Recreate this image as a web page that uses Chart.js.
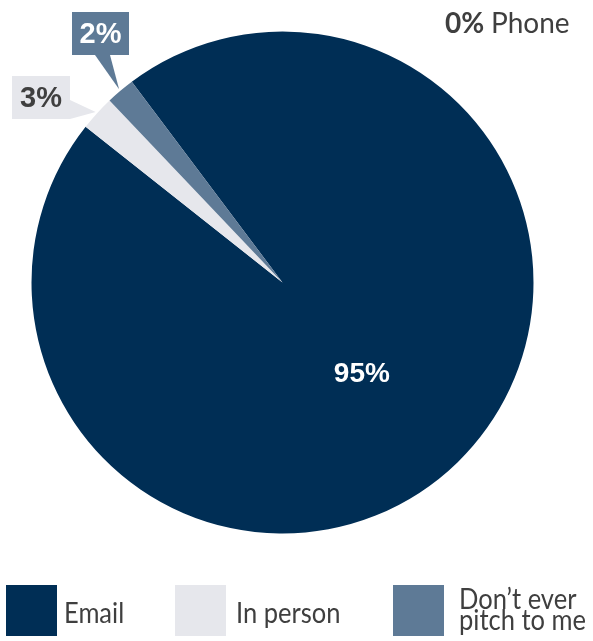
<!DOCTYPE html>
<html>
<head>
<meta charset="utf-8">
<script src="https://cdn.jsdelivr.net/npm/chart.js@4.4.0/dist/chart.umd.min.js"></script>
<style>
  html, body { margin: 0; padding: 0; background: #fff; }
  #pitchPie { display: block; }
</style>
</head>
<body>
<canvas id="pitchPie" width="593" height="641"></canvas>
<script>
// how do you prefer to be pitched?
const categories = ['Email', 'In person', "Don\u2019t ever\npitch to me", 'Phone'];
const shares = [95.9, 2.25, 1.85, 0];
const shareLabels = ['95%', '3%', '2%', '0%'];
const colours = ['#002e55', '#e6e7ec', '#5e7a96', '#9aa9b8'];

const textGrey = '#3f3f3f';

// labels, callouts and legend drawn straight on the canvas
const pieText = {
    id: 'pieText',
    afterDraw(chart) {
        const ctx = chart.ctx;
        const arcs = chart.getDatasetMeta(0).data;
        ctx.save();
        ctx.textBaseline = 'middle';
        ctx.textAlign = 'center';

        // big slice label
        const big = arcs[0];
        ctx.fillStyle = '#ffffff';
        ctx.font = 'bold 28px "Liberation Sans", Arial, sans-serif';
        const mid = (big.startAngle + big.endAngle) / 2;
        const r = big.outerRadius * 0.47;
        ctx.fillText(shareLabels[0], big.x + Math.cos(mid) * r - 3, big.y + Math.sin(mid) * r + 7);

        // callout for a small slice: box + pointer to the rim
        function callout(i, box, base, txtColour) {
            const a = arcs[i];
            const m = (a.startAngle + a.endAngle) / 2;
            const tipX = a.x + Math.cos(m) * (a.outerRadius + 2);
            const tipY = a.y + Math.sin(m) * (a.outerRadius + 2);
            ctx.fillStyle = colours[i];
            ctx.fillRect(box[0], box[1], box[2], box[3]);
            ctx.beginPath();
            ctx.moveTo(base[0], base[1]);
            ctx.lineTo(base[2], base[3]);
            ctx.lineTo(tipX, tipY);
            ctx.closePath();
            ctx.fill();
            ctx.fillStyle = txtColour;
            ctx.font = 'bold 29px "Liberation Sans", Arial, sans-serif';
            ctx.fillText(shareLabels[i], box[0] + box[2] / 2, box[1] + box[3] / 2 + 1);
        }
        callout(1, [12, 76, 58, 43], [70, 100, 70, 119], textGrey);
        callout(2, [72, 12, 57, 43], [95, 55, 110, 55], '#ffffff');

        // the empty phone slice
        ctx.textAlign = 'left';
        ctx.textBaseline = 'alphabetic';
        ctx.fillStyle = textGrey;
        ctx.font = 'bold 28px Lato, sans-serif';
        ctx.fillText(shareLabels[3], 445, 33);
        const w0 = ctx.measureText(shareLabels[3] + ' ').width;
        ctx.font = '28px Lato, sans-serif';
        ctx.fillText(categories[3], 445 + w0, 33);

        // legend
        const items = [
            { x: 6, tx: 64 },
            { x: 175, tx: 236 },
            { x: 393, tx: 459 }
        ];
        items.forEach(function(it, i) {
            ctx.fillStyle = colours[i];
            ctx.fillRect(it.x, 585, 51, 51);
            ctx.fillStyle = textGrey;
            ctx.font = '29px Lato, sans-serif';
            const lines = categories[i].split('\n');
            const ys = lines.length === 1 ? [623] : [609, 630];
            lines.forEach(function(line, k) {
                ctx.save();
                ctx.translate(it.tx, ys[k]);
                ctx.scale(0.88, 1);
                ctx.fillText(line, 0, 0);
                ctx.restore();
            });
        });
        ctx.restore();
    }
};

const chart = new Chart(document.getElementById('pitchPie').getContext('2d'), {
    type: 'pie',
    data: {
        labels: categories,
        datasets: [{
            data: shares,
            backgroundColor: colours,
            borderWidth: 0
        }]
    },
    options: {
        responsive: false,
        animation: false,
        rotation: -36.9,
        layout: {
            padding: { left: 31.5, right: 59.5, top: 31.5, bottom: 107.5 }
        },
        plugins: {
            legend: { display: false },
            tooltip: { enabled: false }
        }
    },
    plugins: [pieText]
});
</script>
</body>
</html>
